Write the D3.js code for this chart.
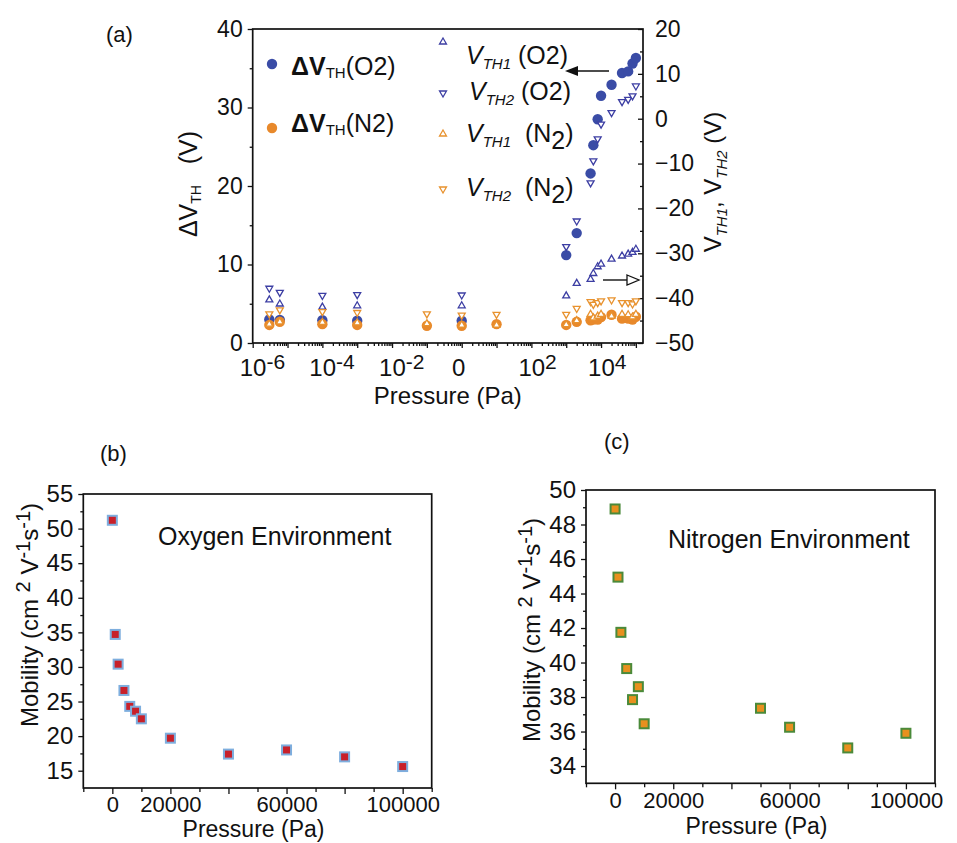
<!DOCTYPE html>
<html><head><meta charset="utf-8">
<script src="https://cdn.jsdelivr.net/npm/d3@7"></script>
<style>
body{margin:0;background:#fff}
svg{display:block}
text{font-family:"Liberation Sans",Arial,Helvetica,sans-serif;fill:#111}
</style>
</head><body>
<svg id="chart" width="957" height="843"></svg>
<script>
// ---------------- DATA ----------------
// Panel (a): threshold voltages vs pressure (log axis)
const pressureA = [3e-6, 6e-6, 1e-4, 1e-3, 0.1, 1, 10, 1000, 2000, 5000, 6000, 8000, 10000, 20000, 40000, 60000, 80000, 100000];
const dVthO2 = [3.0, 2.95, 2.9, 2.85, null, 2.85, null, 11.2, 14.0, 21.6, 25.2, 28.5, 31.5, 32.9, 34.4, 34.6, 35.6, 36.3];
const dVthN2 = [2.3, 2.7, 2.4, 2.3, 2.2, 2.2, 2.4, 2.3, 2.7, 2.9, 3.0, 3.0, 3.3, 3.6, 3.1, 3.1, 3.0, 3.35];
const vth1O2 = [-40.4, -41.3, -42.0, -41.7, null, -41.7, null, -39.5, -36.7, -35.8, -34.5, -33.0, -32.4, -31.3, -30.6, -30.2, -29.8, -29.1];
const vth2O2 = [-37.8, -38.7, -39.4, -39.2, null, -39.3, null, -28.5, -22.8, -14.3, -9.4, -4.5, -1.2, 1.35, 3.8, 4.3, 5.1, 7.3];
const vth1N2 = [-45.8, -45.3, -45.4, -45.5, -45.7, -46.0, -46.0, -45.9, -45.0, -43.6, -44.4, -44.0, -43.6, -44.0, -43.6, -43.7, -44.2, -43.6];
const vth2N2 = [-43.5, -42.6, -43.0, -43.2, -43.5, -43.8, -43.6, -43.6, -42.3, -40.8, -41.4, -41.0, -40.6, -40.4, -41.0, -41.0, -41.3, -40.6];
const xTickValsA = [1e-6, 1e-4, 1e-2, 1, 1e2, 1e4];
const xTickBaseA = ["10", "10", "10", "0", "10", "10"];
const xTickExpA = ["-6", "-4", "-2", "", "2", "4"];
const yTicksLeftA = [0, 10, 20, 30, 40];
const yTicksRightA = [-50, -40, -30, -20, -10, 0, 10, 20];

// Panel (b): mobility in oxygen
const pressureB = [0, 1000, 2000, 4000, 6000, 8000, 10000, 20000, 40000, 60000, 80000, 100000];
const mobilityO2 = [51.2, 34.7, 30.4, 26.6, 24.3, 23.6, 22.5, 19.7, 17.4, 18.0, 17.0, 15.6];
const yTicksB = [15, 20, 25, 30, 35, 40, 45, 50, 55];

// Panel (c): mobility in nitrogen
const pressureC = [0, 1000, 2000, 4000, 6000, 8000, 10000, 50000, 60000, 80000, 100000];
const mobilityN2 = [48.9, 44.95, 41.75, 39.65, 37.85, 38.6, 36.45, 37.35, 36.25, 35.05, 35.9];
const yTicksC = [34, 36, 38, 40, 42, 44, 46, 48, 50];

const xTicksLin = [0, 20000, 40000, 60000, 80000, 100000];
const xTickLabelsLin = ["0", "20000", "", "60000", "", "100000"];

// ---------------- COLORS ----------------
const BLUE = "#3a4ca6", ORANGE = "#e8892b", BLUE_T = "#3c3ea3", ORANGE_T = "#e8922e";

const svg = d3.select("#chart");
const INK = "#111";

function styleAxis(g, fs) {
  g.select("path.domain").remove();
  g.selectAll("line").attr("stroke", INK).attr("stroke-width", 1.3);
  g.selectAll("text").attr("font-size", fs).attr("fill", INK);
  return g;
}
function frame(x0, y0, x1, y1) {
  svg.append("rect").attr("x", x0).attr("y", y0).attr("width", x1 - x0).attr("height", y1 - y0)
    .attr("fill", "none").attr("stroke", INK).attr("stroke-width", 1.7);
}

// ================= PANEL (a) =================
const A = {l: 252.7, r: 643, t: 29, b: 343};
const xA = d3.scaleLog().domain([1e-6, 1.6e5]).range([A.l, A.r]);
const yL = d3.scaleLinear().domain([0, 40]).range([A.b, A.t]);
const yR = d3.scaleLinear().domain([-50, 20]).range([A.b, A.t]);

const decades = d3.range(-6, 6).map(e => +("1e" + e));
const minorsA = [];
decades.forEach(d => { for (let k = 2; k < 10; k++) { const v = d * k; if (v < 1.6e5) minorsA.push(v); } });

styleAxis(svg.append("g").attr("transform", `translate(0,${A.b})`)
  .call(d3.axisBottom(xA).tickValues(decades).tickSize(5).tickFormat("")), 22);
styleAxis(svg.append("g").attr("transform", `translate(0,${A.b})`)
  .call(d3.axisBottom(xA).tickValues(minorsA).tickSize(3).tickFormat("")), 22);

// x tick labels with superscripts
xTickValsA.forEach((v, i) => {
  const t = svg.append("text").attr("y", A.b + 33).attr("font-size", 24);
  if (xTickExpA[i] === "") {
    t.attr("x", xA(v) - 3).attr("text-anchor", "middle").text(xTickBaseA[i]);
  } else {
    t.attr("x", xA(v) - 13).attr("text-anchor", "start");
    t.append("tspan").text(xTickBaseA[i]);
    t.append("tspan").attr("dy", -7).attr("font-size", 21).text(xTickExpA[i]);
  }
});
svg.append("text").attr("x", (A.l + A.r) / 2).attr("y", 404).attr("text-anchor", "middle")
  .attr("font-size", 24).text("Pressure (Pa)");

// left axis
styleAxis(svg.append("g").attr("transform", `translate(${A.l},0)`)
  .call(d3.axisLeft(yL).tickValues(yTicksLeftA).tickSize(5).tickPadding(5)), 23);
styleAxis(svg.append("g").attr("transform", `translate(${A.l},0)`)
  .call(d3.axisLeft(yL).tickValues([5, 15, 25, 35]).tickSize(3).tickFormat("")), 23);
// right axis (ticks inward)
styleAxis(svg.append("g").attr("transform", `translate(${A.r},0)`)
  .call(d3.axisRight(yR).tickValues(yTicksRightA).tickSize(-5).tickPadding(12)), 23);
styleAxis(svg.append("g").attr("transform", `translate(${A.r},0)`)
  .call(d3.axisRight(yR).tickValues([-45, -35, -25, -15, -5, 5, 15]).tickSize(-3).tickFormat("")), 23);

frame(A.l, A.t, A.r, A.b);

// left y label
{
  const t = svg.append("text").attr("transform", `translate(197,184) rotate(-90)`).attr("text-anchor", "middle").attr("font-size", 25);
  t.append("tspan").text("ΔV");
  t.append("tspan").attr("font-size", 14).attr("dy", 4).text("TH");
  t.append("tspan").attr("dy", -4).text("\u00a0\u00a0\u00a0(V)");
}
// right y label
{
  const t = svg.append("text").attr("transform", `translate(721,182) rotate(-90)`).attr("text-anchor", "middle").attr("font-size", 24);
  t.append("tspan").text("V");
  t.append("tspan").attr("font-size", 15).attr("font-style", "italic").attr("dy", 6).text("TH1");
  t.append("tspan").attr("dy", -6).text(", V");
  t.append("tspan").attr("font-size", 15).attr("font-style", "italic").attr("dy", 6).text("TH2");
  t.append("tspan").attr("dy", -6).text("\u00a0(V)");
}

// data marks
const triUp = d3.symbol(d3.symbolTriangle, 21)();
function circles(vals, color) {
  svg.append("g").selectAll("circle").data(pressureA.map((p, i) => [p, vals[i]]).filter(d => d[1] !== null))
    .join("circle").attr("cx", d => xA(d[0])).attr("cy", d => yL(d[1])).attr("r", 5.2).attr("fill", color);
}
function tris(vals, color, down) {
  svg.append("g").selectAll("path").data(pressureA.map((p, i) => [p, vals[i]]).filter(d => d[1] !== null))
    .join("path").attr("d", triUp)
    .attr("transform", d => `translate(${xA(d[0])},${yR(d[1])})${down ? " rotate(180)" : ""}`)
    .attr("fill", "#fff").attr("stroke", color).attr("stroke-width", 1.3);
}
circles(dVthO2, BLUE);
circles(dVthN2, ORANGE);
tris(vth1O2, BLUE_T, false);
tris(vth2O2, BLUE_T, true);
tris(vth1N2, ORANGE_T, false);
tris(vth2N2, ORANGE_T, true);

// legend
function legCircle(x, y, c) { svg.append("circle").attr("cx", x).attr("cy", y).attr("r", 5.2).attr("fill", c); }
function legTri(x, y, c, down) {
  svg.append("path").attr("d", triUp).attr("transform", `translate(${x},${y})${down ? " rotate(180)" : ""}`)
    .attr("fill", "#fff").attr("stroke", c).attr("stroke-width", 1.3);
}
legCircle(272, 64, BLUE);
legCircle(272, 128, ORANGE);
function dvLegend(x, y, gas) {
  const t = svg.append("text").attr("x", x).attr("y", y).attr("font-size", 25);
  t.append("tspan").attr("font-weight", "bold").text("ΔV");
  t.append("tspan").attr("font-size", 15).attr("dy", 3).text("TH");
  t.append("tspan").attr("dy", -3).text("(" + gas + ")");
}
dvLegend(291, 75, "O2");
dvLegend(291, 132, "N2");

legTri(443, 42, BLUE_T, false);
legTri(443, 93, BLUE_T, true);
legTri(443, 134, ORANGE_T, false);
legTri(443, 189, ORANGE_T, true);
function vLegend(x, y, sub, gas, lowered) {
  const t = svg.append("text").attr("x", x).attr("y", y).attr("font-size", 25);
  t.append("tspan").attr("font-style", "italic").text("V");
  t.append("tspan").attr("font-style", "italic").attr("font-size", 15).attr("dy", 5).text(sub);
  if (lowered) {
    t.append("tspan").attr("dy", -5).text("\u00a0\u00a0(" + gas);
    t.append("tspan").attr("dy", 7).text("2");
    t.append("tspan").attr("dy", -7).text(")");
  } else {
    t.append("tspan").attr("dy", -5).text("\u00a0(" + gas + "2)");
  }
}
vLegend(466, 64, "TH1", "O", false);
vLegend(469, 100, "TH2", "O", false);
vLegend(466, 142, "TH1", "N", true);
vLegend(466, 196, "TH2", "N", true);

// arrows
svg.append("line").attr("x1", 609).attr("y1", 71).attr("x2", 575).attr("y2", 71).attr("stroke", INK).attr("stroke-width", 1.6);
svg.append("path").attr("d", "M565,71 L578,66 L578,76 Z").attr("fill", INK);
svg.append("line").attr("x1", 603).attr("y1", 280).attr("x2", 627).attr("y2", 280).attr("stroke", INK).attr("stroke-width", 1.4);
svg.append("path").attr("d", "M627,275 L639,280 L627,285 Z").attr("fill", "#fff").attr("stroke", INK).attr("stroke-width", 1.3);

svg.append("text").attr("x", 106).attr("y", 42).attr("font-size", 22).text("(a)");

// ================= PANELS (b) & (c) =================
function mobilityPanel(P, xs, ys, yDomain, yTicks, yMinor, color, stroke, tag, tagPos, envText, envPos, ylabPos, padX, titleY) {
  const x = d3.scaleLinear().domain([-10000, 110000]).range([P.l, P.r]);
  const y = d3.scaleLinear().domain(yDomain).range([P.b, P.t]);
  styleAxis(svg.append("g").attr("transform", `translate(0,${P.b})`)
    .call(d3.axisBottom(x).tickValues(xTicksLin).tickSize(6).tickPadding(padX)
      .tickFormat((d, i) => xTickLabelsLin[i])), 22);
  styleAxis(svg.append("g").attr("transform", `translate(0,${P.b})`)
    .call(d3.axisBottom(x).tickValues([-10000, 10000, 30000, 50000, 70000, 90000, 110000]).tickSize(4).tickFormat("")), 22);
  styleAxis(svg.append("g").attr("transform", `translate(${P.l},0)`)
    .call(d3.axisLeft(y).tickValues(yTicks).tickSize(5).tickPadding(5)), 24);
  styleAxis(svg.append("g").attr("transform", `translate(${P.l},0)`)
    .call(d3.axisLeft(y).tickValues(yMinor).tickSize(3).tickFormat("")), 24);
  frame(P.l, P.t, P.r, P.b);
  svg.append("g").selectAll("rect").data(xs.map((p, i) => [p, ys[i]])).join("rect")
    .attr("x", d => x(d[0]) - 4.5).attr("y", d => y(d[1]) - 4.5).attr("width", 9).attr("height", 9)
    .attr("fill", color).attr("stroke", stroke).attr("stroke-width", 2);
  svg.append("text").attr("x", (P.l + P.r) / 2 - 4).attr("y", titleY).attr("text-anchor", "middle")
    .attr("font-size", 23).text("Pressure (Pa)");
  svg.append("text").attr("x", tagPos[0]).attr("y", tagPos[1]).attr("font-size", 22).text(tag);
  svg.append("text").attr("x", envPos[0]).attr("y", envPos[1]).attr("font-size", 25).text(envText);
  const t = svg.append("text").attr("transform", `translate(${ylabPos[0]},${ylabPos[1]}) rotate(-90)`)
    .attr("text-anchor", "middle").attr("font-size", 24);
  t.append("tspan").text("Mobility (cm ");
  t.append("tspan").attr("font-size", 20).attr("dy", -8).text("2");
  t.append("tspan").attr("dy", 8).text(" V");
  t.append("tspan").attr("font-size", 20).attr("dy", -8).text("-1");
  t.append("tspan").attr("dy", 8).text("s");
  t.append("tspan").attr("font-size", 20).attr("dy", -8).text("-1");
  t.append("tspan").attr("dy", 8).text(")");
}

mobilityPanel({l: 83.3, r: 431.7, t: 494, b: 788}, pressureB, mobilityO2, [12.5, 55], yTicksB,
  [17.5, 22.5, 27.5, 32.5, 37.5, 42.5, 47.5, 52.5], "#c8202a", "#7eaede",
  "(b)", [100, 461], "Oxygen Environment", [158, 545], [38, 615], 2, 837);

mobilityPanel({l: 586, r: 935, t: 490, b: 783.3}, pressureC, mobilityN2, [33, 50], yTicksC,
  [35, 37, 39, 41, 43, 45, 47, 49], "#e8901e", "#4a8a3a",
  "(c)", [604, 449], "Nitrogen Environment", [668, 548], [540, 630], 3, 834);
</script>
</body></html>
